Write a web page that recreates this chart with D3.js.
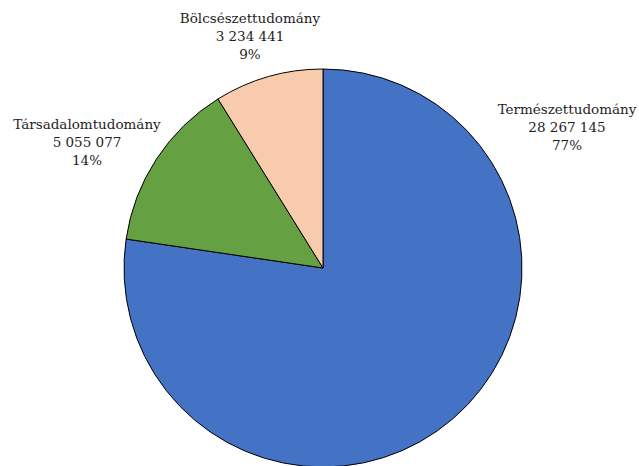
<!DOCTYPE html>
<html><head><meta charset="utf-8">
<script src="https://cdn.jsdelivr.net/npm/d3@7"></script>
<style>html,body{margin:0;padding:0;background:#fff;overflow:hidden}</style>
</head><body>
<svg id="chart" width="639" height="466"></svg>
<script>
const categories = ["Természettudomány", "Társadalomtudomány", "Bölcsészettudomány"];
const values = [28267145, 5055077, 3234441];
const valueLabels = ["28 267 145", "5 055 077", "3 234 441"];
const percentLabels = ["77%", "14%", "9%"];
const colors = ["#4472C4", "#65A042", "#F8CBAD"];

const svg = d3.select("#chart");
const cx = 323, cy = 268, r = 199;
const g = svg.append("g").attr("transform", `translate(${cx},${cy})`);
const pie = d3.pie().sort(null).value(d => d.v);
const data = categories.map((c, i) => ({c, v: values[i], i}));
const arcs = pie(data);
const arc = d3.arc().innerRadius(0).outerRadius(r);
g.selectAll("path").data(arcs).join("path")
  .attr("d", arc).attr("fill", d => colors[d.data.i])
  .attr("stroke", "#000").attr("stroke-width", 1).attr("stroke-linejoin", "round");

const labelPos = [[567, 114], [87, 129], [250, 23]];
const lh = 18;
const font = "'DejaVu Serif', serif";
labelPos.forEach((p, i) => {
  const t = svg.append("text").attr("text-anchor", "middle")
    .attr("font-family", font).attr("font-size", 13.5).attr("fill", "#1e1e1e");
  [categories[i], valueLabels[i], percentLabels[i]].forEach((s, k) => {
    t.append("tspan").attr("x", p[0]).attr("y", p[1] + k * lh).text(s);
  });
});
</script>
</body></html>
